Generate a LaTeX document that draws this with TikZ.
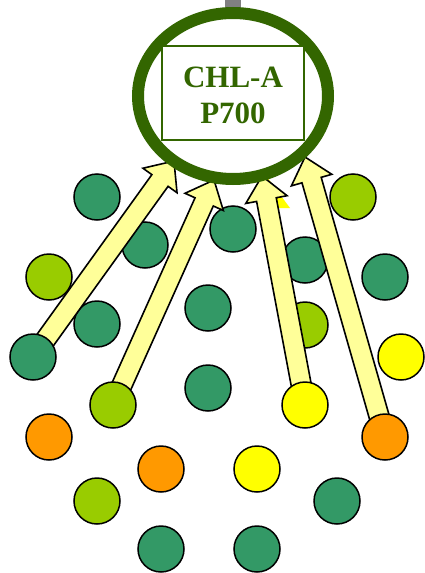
\documentclass[tikz,border=0pt]{standalone}
\usepackage{fontspec}
\setmainfont{Liberation Serif}
\usetikzlibrary{calc}
\definecolor{dkg}{HTML}{339966}
\definecolor{ltg}{HTML}{99CC00}
\definecolor{yel}{HTML}{FFFF00}
\definecolor{org}{HTML}{FF9900}
\definecolor{pale}{HTML}{FFFF99}
\definecolor{ring}{HTML}{336600}
\tikzset{
  pig/.style={circle,draw=black,line width=1.5pt,minimum size=46pt,inner sep=0pt},
  arrowbody/.style={draw=black,fill=pale,line width=1.6pt,line join=miter},
  lbl/.style={text=ring,font=\fontsize{31}{31}\selectfont\bfseries,anchor=base}
}
\newcommand\blockarr[2]{%
  \path (#1.center) coordinate (t) (#2) coordinate (p);
  \path ($(p)!24pt!(t)$) coordinate (hb);
  \draw[arrowbody] ($(t)!10pt!90:(p)$) -- ($(hb)!10pt!-90:(t)$) -- ($(hb)!21pt!-90:(t)$) -- (p)
     -- ($(hb)!21pt!90:(t)$) -- ($(hb)!10pt!90:(t)$) -- ($(t)!10pt!-90:(p)$) -- cycle;
}
\begin{document}
\begin{tikzpicture}[x=1pt,y=-1pt]
\useasboundingbox[fill=white] (0,0) rectangle (425,573);
% gray stalk
\fill[gray] (225,0) rectangle (241,14);
% background circles
\node[pig,fill=dkg] (c1) at (97,197) {};
\node[pig,fill=dkg] (c2) at (145,245) {};
\node[pig,fill=dkg] (c3) at (233,229) {};
\node[pig,fill=ltg] (c4) at (49,277) {};
\node[pig,fill=dkg] (c5) at (97,324) {};
\node[pig,fill=dkg] (c6) at (208,308) {};
\node[pig,fill=dkg] (c7) at (305,260) {};
\node[pig,fill=ltg] (c8) at (353,197) {};
\node[pig,fill=dkg] (c9) at (385,277) {};
\node[pig,fill=ltg] (c10) at (305,325) {};
\node[pig,fill=yel] (c11) at (401,357) {};
\node[pig,fill=dkg] (c12) at (208,388) {};
\node[pig,fill=org] (c13) at (49,437) {};
\node[pig,fill=org] (c14) at (161,469) {};
\node[pig,fill=yel] (c15) at (257,469) {};
\node[pig,fill=ltg] (c16) at (97,501) {};
\node[pig,fill=dkg] (c17) at (337,501) {};
\node[pig,fill=dkg] (c18) at (161,549) {};
\node[pig,fill=dkg] (c19) at (257,549) {};
% tip coordinates
\coordinate (tip1) at (174,161);
\coordinate (tip2) at (214,180);
\coordinate (tip3) at (262,176);
\coordinate (tip4) at (305,157);
% source circles placeholders (named before arrows)
\path (33,357) coordinate (s1c) (113,405) coordinate (s2c) (305,405) coordinate (s3c) (385,437) coordinate (s4c);
% yellow glimpse behind arrow 3
\fill[yel] (267,177) -- (290,208) -- (262,208) -- cycle;
% arrows
\blockarr{s1c}{tip1}
\blockarr{s2c}{tip2}
\blockarr{s3c}{tip3}
\blockarr{s4c}{tip4}
% source circles
\node[pig,fill=dkg] (s1) at (s1c) {};
\node[pig,fill=ltg] (s2) at (s2c) {};
\node[pig,fill=yel] (s3) at (s3c) {};
\node[pig,fill=org] (s4) at (s4c) {};
% reaction centre ring
\draw[ring,line width=12pt,fill=white] (233,96) ellipse [x radius=95, y radius=83];
\node[draw=ring,line width=2pt,fill=white,minimum width=142pt,minimum height=94pt,inner sep=0pt] (box) at (233,93) {};
\node[lbl] (t1) at (233,87) {CHL-A};
\node[lbl] (t2) at (233,123) {P700};
\end{tikzpicture}
\end{document}
